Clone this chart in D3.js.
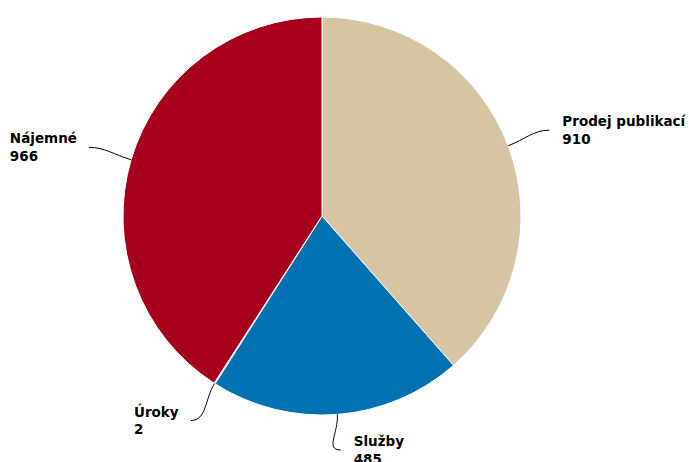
<!DOCTYPE html>
<html>
<head>
<meta charset="utf-8">
<script src="https://cdn.jsdelivr.net/npm/d3@7"></script>
<style>
  body { margin: 0; background: #fff; }
  text { font-family: "DejaVu Sans", sans-serif; font-weight: bold; font-size: 13.5px; fill: #000; }
</style>
</head>
<body>
<div id="chart"></div>
<script>
const categories = ["Prodej publikací", "Služby", "Úroky", "Nájemné"];
const values = [910, 485, 2, 966];
const colors = ["#D7C4A3", "#0072B2", "#0072B2", "#A6001E"];

pieChart();

function pieChart() {
    let width = 689, height = 462;
    let cx = 322, cy = 216, r = 199;

    let svg = d3.select("#chart").append("svg")
        .attr("width", width)
        .attr("height", height);

    let g = svg.append("g")
        .attr("transform", "translate(" + cx + "," + cy + ")");

    let data = categories.map((c, i) => ({ name: c, value: values[i], col: colors[i] }));

    let pie = d3.pie().sort(null).value(d => d.value);
    let arc = d3.arc().innerRadius(0).outerRadius(r);
    let arcs = pie(data);

    g.selectAll("path.slice")
        .data(arcs)
        .enter()
        .append("path")
        .attr("class", "slice")
        .attr("d", arc)
        .attr("fill", d => d.data.col)
        .attr("stroke", "#fff")
        .attr("stroke-width", 1);

    // labels with curved connectors
    let labelR = r + 44;
    arcs.forEach(d => {
        let a = (d.startAngle + d.endAngle) / 2;
        let sx = Math.sin(a), sy = -Math.cos(a);
        let start = [r * sx, r * sy];
        let end = [labelR * sx, labelR * sy];
        // keep bottom labels inside the picture
        end[1] = Math.min(end[1], height - cy - 12);
        let right = sx >= 0;
        let dir = right ? 1 : -1;

        g.append("path")
            .attr("d", "M" + start + "C" + [start[0] + sx * 18, start[1] + sy * 18] +
                " " + [end[0] - dir * 16, end[1]] + " " + end)
            .attr("fill", "none")
            .attr("stroke", "#000")
            .attr("stroke-width", 1);

        let t = g.append("text");
        t.append("tspan").attr("x", 0).attr("dy", 0).text(d.data.name);
        t.append("tspan").attr("x", 0).attr("dy", "1.3em").text(d.data.value);
        let w = t.node().getBBox().width;
        let tx = right ? end[0] + 13 : end[0] - 12 - w;
        t.attr("transform", "translate(" + tx + "," + (end[1] - 4) + ")");
    });
}
</script>
</body>
</html>
